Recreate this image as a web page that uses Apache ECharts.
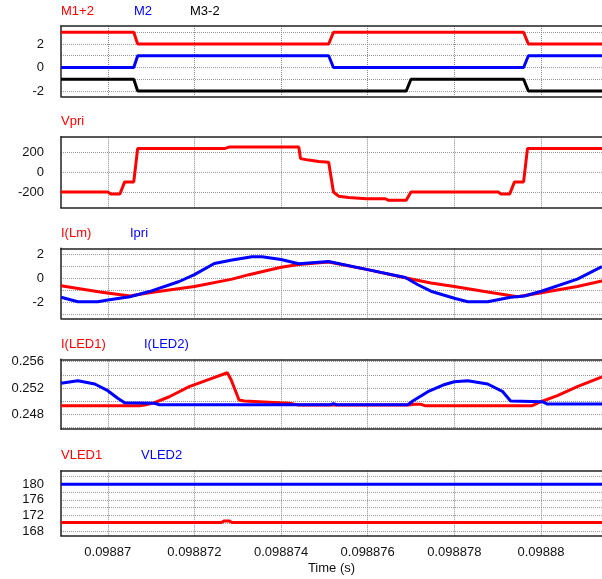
<!DOCTYPE html>
<html><head><meta charset="utf-8">
<script src="https://cdn.jsdelivr.net/npm/echarts@6/dist/echarts.min.js"></script>
<style>html,body{margin:0;padding:0;background:#fff}#c{width:602px;height:579px}</style>
</head><body><div id="c"></div>
<script>
const xTicks = [0.09887, 0.098872, 0.098874, 0.098876, 0.098878, 0.09888];
const xMin = 0.09886892, xMax = 0.09888141;

// Panel 1
const m12 = [[0.09886892,3],[0.09887060,3],[0.09887069,2],[0.09887510,2],[0.09887521,3],[0.09887960,3],[0.09887971,2],[0.09888141,2]];
const m2 = [[0.09886892,0],[0.09887060,0],[0.09887069,1],[0.09887510,1],[0.09887521,0],[0.09887960,0],[0.09887971,1],[0.09888141,1]];
const m32 = [[0.09886892,-1],[0.09887060,-1],[0.09887069,-2],[0.09887689,-2],[0.09887700,-1],[0.09887960,-1],[0.09887971,-2],[0.09888141,-2]];
// Panel 2
const vpri = [[0.09886892,-200],[0.09887000,-200],[0.09887007,-220],[0.09887028,-220],[0.09887039,-98],[0.09887060,-98],[0.09887069,240],[0.09887271,240],[0.09887280,253],[0.09887441,253],[0.09887445,137],[0.09887464,122],[0.09887487,108],[0.09887510,101],[0.09887521,-200],[0.09887533,-242],[0.09887556,-255],[0.09887597,-268],[0.09887641,-268],[0.09887647,-282],[0.09887689,-282],[0.09887700,-200],[0.09887902,-200],[0.09887907,-219],[0.09887928,-219],[0.09887939,-98],[0.09887960,-98],[0.09887969,240],[0.09888141,240]];
// Panel 3
const iLm = [[0.09886892,-0.65],[0.09886982,-1.16],[0.09887051,-1.5],[0.09887096,-1.22],[0.09887200,-0.7],[0.09887287,-0.09],[0.09887326,0.28],[0.09887400,0.9],[0.09887441,1.13],[0.09887510,1.33],[0.09887600,0.7],[0.09887689,0],[0.09887746,-0.42],[0.09887800,-0.71],[0.09887870,-1.13],[0.09887946,-1.56],[0.09888001,-1.22],[0.09888084,-0.71],[0.09888141,-0.25]];
const iPri = [[0.09886892,-1.61],[0.09886931,-1.98],[0.09886977,-1.98],[0.09887000,-1.84],[0.09887051,-1.56],[0.09887096,-1.13],[0.09887165,-0.29],[0.09887200,0.28],[0.09887246,1.21],[0.09887287,1.5],[0.09887333,1.78],[0.09887356,1.78],[0.09887400,1.55],[0.09887441,1.19],[0.09887510,1.38],[0.09887600,0.7],[0.09887687,0.05],[0.09887716,-0.56],[0.09887746,-1.1],[0.09887800,-1.69],[0.09887831,-1.98],[0.09887877,-1.98],[0.09887930,-1.6],[0.09887962,-1.5],[0.09888001,-1.1],[0.09888084,-0.09],[0.09888141,0.95]];
// Panel 4
const iLed1 = [[0.09886892,0.2493],[0.09887073,0.2493],[0.09887085,0.2494],[0.09887108,0.24975],[0.09887142,0.25066],[0.09887188,0.25219],[0.09887234,0.25332],[0.09887276,0.25432],[0.09887285,0.25321],[0.09887303,0.25016],[0.09887315,0.2500],[0.09887418,0.24966],[0.09887441,0.2494],[0.09887693,0.2494],[0.09887709,0.2495],[0.09887723,0.2495],[0.09887732,0.2493],[0.09887980,0.2493],[0.09888000,0.2499],[0.09888038,0.25082],[0.09888084,0.2522],[0.09888141,0.2537]];
const iLed2 = [[0.09886892,0.25271],[0.09886931,0.2531],[0.09886970,0.2526],[0.09887000,0.25158],[0.09887023,0.25042],[0.09887039,0.24975],[0.09887108,0.24966],[0.09887119,0.24944],[0.09887514,0.24944],[0.09887521,0.2496],[0.09887528,0.24944],[0.09887693,0.24944],[0.09887705,0.25005],[0.09887739,0.25143],[0.09887774,0.25245],[0.09887800,0.25295],[0.09887831,0.2531],[0.09887877,0.2526],[0.09887912,0.25143],[0.09887930,0.2500],[0.09888003,0.2499],[0.09888015,0.24955],[0.09888141,0.24955]];
// Panel 5
const vLed1 = [[0.09886892,170.2],[0.09887262,170.2],[0.09887269,170.6],[0.09887280,170.6],[0.09887287,170.2],[0.09888141,170.2]];
const vLed2 = [[0.09886892,180],[0.09888141,180]];

const yTicks = [[-2,-1,0,1,2,3],[-200,0,200],[-3,-2,-1,0,1,2],[0.246,0.248,0.25,0.252,0.254,0.256],[168,170,172,174,176,178,180,182]];
const yLabels = [[-2,0,2],[-200,0,200],[-2,0,2],[0.248,0.252,0.256],[168,172,176,180]];
const yRanges = [[-2.45,3.53],[-358,358],[-3.36,2.48],[0.24574,0.25637],[166.8,183.5]];

const tops = [26, 136.7, 248.3, 359.3, 470.7];
const heights = [70.3, 71, 70, 69.7, 65];

const FONT = 'Liberation Sans, Arial, sans-serif';
const RED = '#ff0000', BLUE = '#0000ff', BLACK = '#000000';
const fmt = v => String(parseFloat(Number(v).toPrecision(6)));
const frame = {show: true, onZero: false, lineStyle: {color: '#222', width: 1.5}};

const grids = [], xAxes = [], yAxes = [];
for (let i = 0; i < 5; i++) {
  grids.push({left: 61, right: 0, top: tops[i], height: heights[i], show: false});
  xAxes.push({
    type: 'value', gridIndex: i, min: xMin, max: xMax, position: 'bottom',
    axisLine: frame, axisTick: {show: false, customValues: xTicks},
    axisLabel: {show: i === 4, customValues: xTicks, formatter: fmt, color: '#111', fontSize: 13, fontFamily: FONT, margin: 10},
    splitLine: {show: true, lineStyle: {color: '#888', type: 'dotted', width: 1}},
    name: i === 4 ? 'Time (s)' : '', nameLocation: 'middle', nameGap: 26,
    nameTextStyle: {color: '#111', fontSize: 13, fontFamily: FONT}
  });
  yAxes.push({
    type: 'value', gridIndex: i, min: yRanges[i][0], max: yRanges[i][1],
    axisLine: frame, axisTick: {show: false, customValues: yTicks[i]},
    axisLabel: {customValues: yLabels[i], formatter: fmt, color: '#111', fontSize: 13, fontFamily: FONT, margin: 17},
    splitLine: {show: true, lineStyle: {color: '#999', type: 'dotted', width: 1}}
  });
}
for (let i = 0; i < 5; i++) {
  xAxes.push({
    type: 'value', gridIndex: i, min: xMin, max: xMax, position: 'top',
    axisLine: frame, axisTick: {show: false}, axisLabel: {show: false}, splitLine: {show: false}
  });
}

function line(name, data, color, idx) {
  return {name, type: 'line', data, xAxisIndex: idx, yAxisIndex: idx, showSymbol: false, symbol: 'none',
    lineStyle: {color, width: 3}, itemStyle: {color}, animation: false, z: 3};
}

const series = [
  line('M1+2', m12, RED, 0), line('M2', m2, BLUE, 0), line('M3-2', m32, BLACK, 0),
  line('Vpri', vpri, RED, 1),
  line('I(Lm)', iLm, RED, 2), line('Ipri', iPri, BLUE, 2),
  line('I(LED1)', iLed1, RED, 3), line('I(LED2)', iLed2, BLUE, 3),
  line('VLED1', vLed1, RED, 4), line('VLED2', vLed2, BLUE, 4)
];

const labels = [
  ['M1+2', 61, 5, RED], ['M2', 134, 5, BLUE], ['M3-2', 190, 5, BLACK],
  ['Vpri', 61, 115, RED],
  ['I(Lm)', 61, 227, RED], ['Ipri', 130, 227, BLUE],
  ['I(LED1)', 61, 338, RED], ['I(LED2)', 144, 338, BLUE],
  ['VLED1', 61, 449, RED], ['VLED2', 141, 449, BLUE]
];

const chart = echarts.init(document.getElementById('c'), null, {renderer: 'canvas'});
chart.setOption({
  animation: false,
  backgroundColor: '#fff',
  grid: grids, xAxis: xAxes, yAxis: yAxes, series,
  graphic: labels.map(([t, x, y, c]) => ({type: 'text', left: x, top: y, style: {text: t, fill: c, font: '13px ' + FONT}}))
});
</script></body></html>
